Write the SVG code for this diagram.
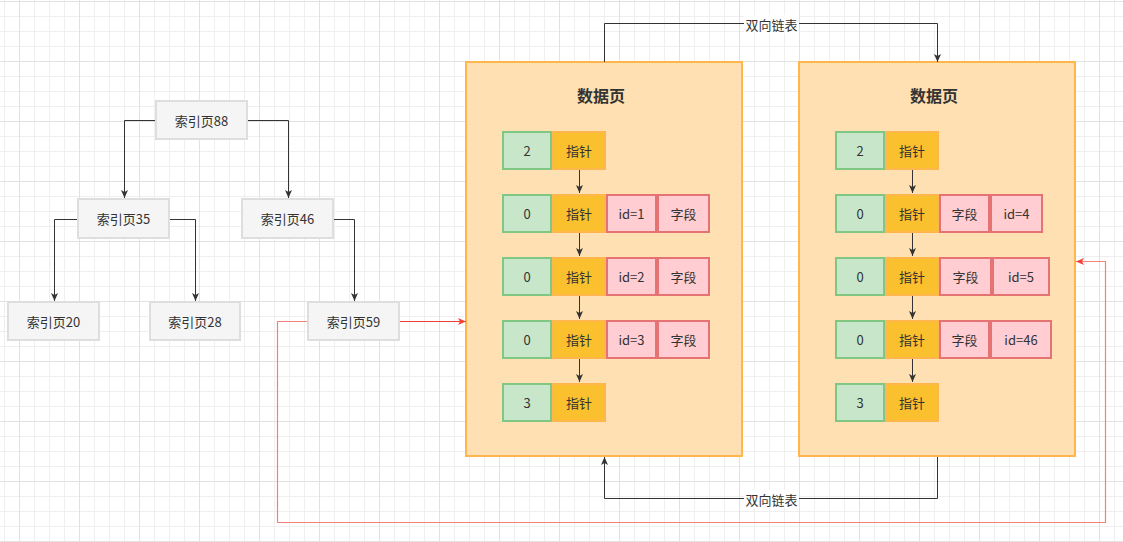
<svg xmlns="http://www.w3.org/2000/svg" width="1123" height="542" viewBox="0 0 1123 542">
<defs>
<pattern id="grid" patternUnits="userSpaceOnUse" x="19" y="1" width="60" height="60">
<path d="M15.5,0V60M30.5,0V60M45.5,0V60M0,15.5H60M0,30.5H60M0,45.5H60" stroke="#efefef" stroke-width="1" fill="none"/>
<path d="M0.5,0V60M0,0.5H60" stroke="#e2e2e2" stroke-width="1" fill="none"/>
</pattern>
<marker id="arr" markerUnits="userSpaceOnUse" markerWidth="10" markerHeight="8" refX="8" refY="3.5" orient="auto">
<path d="M0,0 L8,3.5 L0,7 L2,3.5 Z" fill="#333333"/>
</marker>
<marker id="arrRed" markerUnits="userSpaceOnUse" markerWidth="10" markerHeight="8" refX="8" refY="3.5" orient="auto">
<path d="M0,0 L8,3.5 L0,7 L2,3.5 Z" fill="#f44336"/>
</marker>
</defs>
<style>
text{font-family:"Noto Sans CJK SC","Noto Sans",sans-serif;font-size:13px;fill:#333333;text-anchor:middle;dominant-baseline:central}
.idx{fill:#f5f5f5;stroke:#dedede;stroke-width:2}
.page{fill:#ffe0b2;stroke:#ffb74d;stroke-width:2}
.g{fill:#c8e6c9;stroke:#81c784;stroke-width:2}
.o{fill:#fbc02d;stroke:#ffb74d;stroke-width:2}
.p{fill:#ffcdd2;stroke:#e57373;stroke-width:2}
.title{font-size:16px;font-weight:bold}
.e{fill:none;stroke:#333333;stroke-width:1;marker-end:url(#arr)}
.er{fill:none;stroke:#ea4335;stroke-width:1;marker-end:url(#arrRed)}
.erl{fill:none;stroke:#f2827b;stroke-width:1.2;marker-end:url(#arrRed)}
</style>
<rect width="1123" height="542" fill="#ffffff"/>
<rect width="1123" height="542" fill="url(#grid)"/>

<g id="page1">
<rect class="page" x="466" y="62" width="276" height="394"/>
<text class="title" x="601" y="95">数据页</text>
</g>
<g id="page2">
<rect class="page" x="799" y="62" width="276" height="394"/>
<text class="title" x="934" y="95">数据页</text>
</g>

<g id="connectors">
<path class="e" d="M155,120.5H124.5V198"/>
<path class="e" d="M248,120.5H288.5V198"/>
<path class="e" d="M77,219.5H54.5V301"/>
<path class="e" d="M170,219.5H195.5V301"/>
<path class="e" d="M334,219.5H354.5V301"/>
<path class="er" d="M400,321.5H466"/>
<path class="erl" d="M307,321.5H277.5V522.5H1105.5V261.5H1076"/>
<path class="e" d="M604.5,62V23.5H937.5V62"/>
<path class="e" d="M937.5,457V498.5H604.5V457"/>
<path class="e" d="M579.5,170V193"/>
<path class="e" d="M579.5,233V256"/>
<path class="e" d="M579.5,296V319"/>
<path class="e" d="M579.5,359V382"/>
<path class="e" d="M912.5,170V193"/>
<path class="e" d="M912.5,233V256"/>
<path class="e" d="M912.5,296V319"/>
<path class="e" d="M912.5,359V382"/>
<rect x="744" y="15" width="55" height="18" fill="#ffffff"/>
<text x="771.5" y="24">双向链表</text>
<rect x="744" y="490" width="55" height="18" fill="#ffffff"/>
<text x="771.5" y="499">双向链表</text>
</g>

<g id="idx88"><rect class="idx" x="156" y="101" width="91" height="38"/><text x="201.5" y="120">索引页88</text></g>
<g id="idx35"><rect class="idx" x="78" y="199" width="91" height="39"/><text x="123.5" y="218.5">索引页35</text></g>
<g id="idx46"><rect class="idx" x="242" y="199" width="91" height="39"/><text x="287.5" y="218.5">索引页46</text></g>
<g id="idx20"><rect class="idx" x="8" y="302" width="91" height="38"/><text x="53.5" y="321">索引页20</text></g>
<g id="idx28"><rect class="idx" x="150" y="302" width="90" height="38"/><text x="195" y="321">索引页28</text></g>
<g id="idx59"><rect class="idx" x="308" y="302" width="91" height="38"/><text x="353.5" y="321">索引页59</text></g>

<g id="p1r1">
<rect class="g" x="503" y="132" width="48" height="37"/><text x="527" y="150.5">2</text>
<rect class="o" x="553" y="132" width="52" height="37"/><text x="579" y="150.5">指针</text>
</g>
<g id="p1r2">
<rect class="g" x="503" y="195" width="48" height="37"/><text x="527" y="213.5">0</text>
<rect class="o" x="553" y="195" width="52" height="37"/><text x="579" y="213.5">指针</text>
<rect class="p" x="607" y="195" width="49" height="37"/><text x="631.5" y="213.5">id=1</text>
<rect class="p" x="658" y="195" width="51" height="37"/><text x="683.5" y="213.5">字段</text>
</g>
<g id="p1r3">
<rect class="g" x="503" y="258" width="48" height="37"/><text x="527" y="276.5">0</text>
<rect class="o" x="553" y="258" width="52" height="37"/><text x="579" y="276.5">指针</text>
<rect class="p" x="607" y="258" width="49" height="37"/><text x="631.5" y="276.5">id=2</text>
<rect class="p" x="658" y="258" width="51" height="37"/><text x="683.5" y="276.5">字段</text>
</g>
<g id="p1r4">
<rect class="g" x="503" y="321" width="48" height="37"/><text x="527" y="339.5">0</text>
<rect class="o" x="553" y="321" width="52" height="37"/><text x="579" y="339.5">指针</text>
<rect class="p" x="607" y="321" width="49" height="37"/><text x="631.5" y="339.5">id=3</text>
<rect class="p" x="658" y="321" width="51" height="37"/><text x="683.5" y="339.5">字段</text>
</g>
<g id="p1r5">
<rect class="g" x="503" y="384" width="48" height="37"/><text x="527" y="402.5">3</text>
<rect class="o" x="553" y="384" width="52" height="37"/><text x="579" y="402.5">指针</text>
</g>

<g id="p2r1">
<rect class="g" x="836" y="132" width="48" height="37"/><text x="860" y="150.5">2</text>
<rect class="o" x="886" y="132" width="52" height="37"/><text x="912" y="150.5">指针</text>
</g>
<g id="p2r2">
<rect class="g" x="836" y="195" width="48" height="37"/><text x="860" y="213.5">0</text>
<rect class="o" x="886" y="195" width="52" height="37"/><text x="912" y="213.5">指针</text>
<rect class="p" x="940" y="195" width="49" height="37"/><text x="964.5" y="213.5">字段</text>
<rect class="p" x="991" y="195" width="51" height="37"/><text x="1016.5" y="213.5">id=4</text>
</g>
<g id="p2r3">
<rect class="g" x="836" y="258" width="48" height="37"/><text x="860" y="276.5">0</text>
<rect class="o" x="886" y="258" width="52" height="37"/><text x="912" y="276.5">指针</text>
<rect class="p" x="940" y="258" width="51" height="37"/><text x="965.5" y="276.5">字段</text>
<rect class="p" x="993" y="258" width="56" height="37"/><text x="1021" y="276.5">id=5</text>
</g>
<g id="p2r4">
<rect class="g" x="836" y="321" width="48" height="37"/><text x="860" y="339.5">0</text>
<rect class="o" x="886" y="321" width="52" height="37"/><text x="912" y="339.5">指针</text>
<rect class="p" x="940" y="321" width="49" height="37"/><text x="964.5" y="339.5">字段</text>
<rect class="p" x="991" y="321" width="60" height="37"/><text x="1021" y="339.5">id=46</text>
</g>
<g id="p2r5">
<rect class="g" x="836" y="384" width="48" height="37"/><text x="860" y="402.5">3</text>
<rect class="o" x="886" y="384" width="52" height="37"/><text x="912" y="402.5">指针</text>
</g>
</svg>
